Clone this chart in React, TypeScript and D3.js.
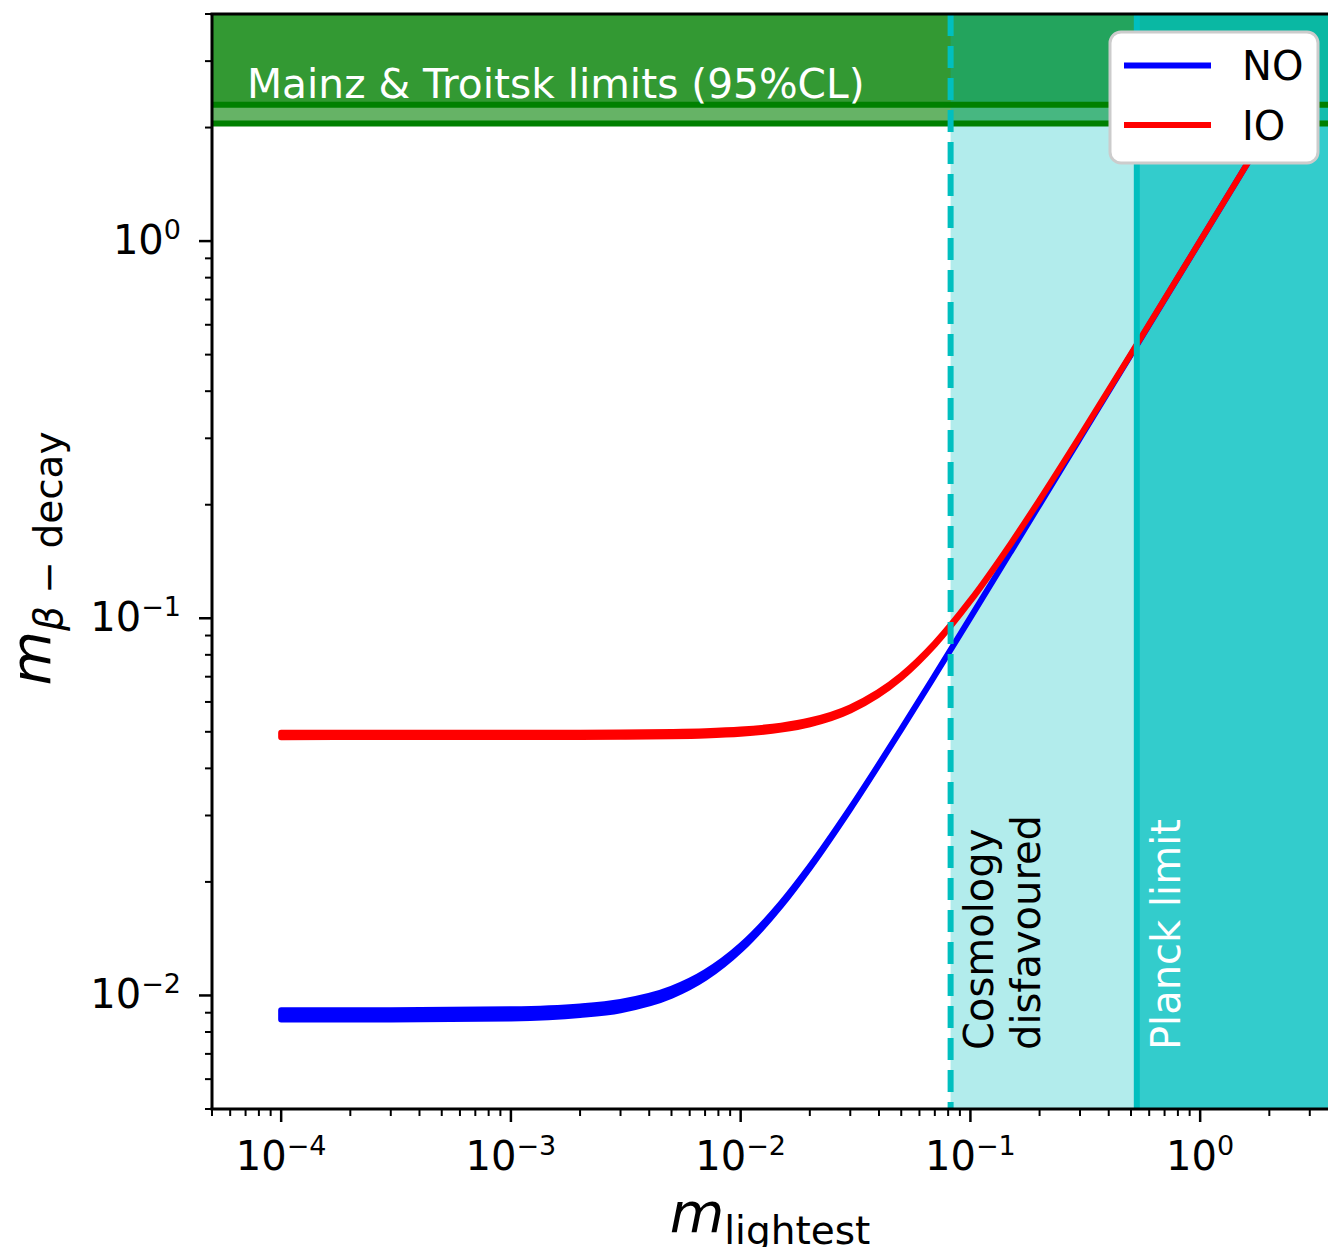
import React, { useRef, useEffect } from 'react';
import * as d3 from 'd3';

// lightest neutrino mass (eV) sampled along the curves
const mLightest = [1e-4, 3e-4, 1e-3, 2e-3, 3e-3, 5e-3, 7e-3, 1e-2, 1.5e-2, 2e-2, 3e-2, 5e-2, 7e-2, 0.1, 0.15, 0.2, 0.3, 0.5, 1, 2];

// normal ordering band (lower / upper edge)
const noLow = [0.00864, 0.00864, 0.00869, 0.00887, 0.00914, 0.00998, 0.01112, 0.01321, 0.01731, 0.02179, 0.03122, 0.05074, 0.07053, 0.10037, 0.15025, 0.20019, 0.30012, 0.50007, 1.0, 2.0];
const noHigh = [0.00913, 0.00914, 0.00919, 0.00935, 0.00961, 0.01041, 0.01151, 0.01354, 0.01756, 0.02199, 0.03136, 0.05083, 0.07059, 0.10042, 0.15028, 0.20021, 0.30014, 0.50008, 1.0, 2.0];

// inverted ordering band
const ioLow = [0.0484, 0.04841, 0.04841, 0.04845, 0.0485, 0.04866, 0.04891, 0.04943, 0.05068, 0.05237, 0.05695, 0.06959, 0.08511, 0.1111, 0.15762, 0.20577, 0.30388, 0.50234, 1.00117, 2.00059];
const ioHigh = [0.0497, 0.04971, 0.04971, 0.04975, 0.04979, 0.04995, 0.05019, 0.0507, 0.05191, 0.05357, 0.05805, 0.0705, 0.08585, 0.11167, 0.15802, 0.20608, 0.30409, 0.50247, 1.00123, 2.00062];

// limits
const mainzLimit = 2.3;
const troitskLimit = 2.05;
const cosmoLimit = 0.082;
const planckLimit = 0.53;

const xTickExps = [-4, -3, -2, -1, 0];
const yTickExps = [-2, -1, 0];

const FONT = '"DejaVu Sans", sans-serif';

export default function App() {
  const svgRef = useRef<SVGSVGElement>(null);

  useEffect(() => {
    const svg = d3.select(svgRef.current);
    svg.selectAll('*').remove();

    const left = 212, top = 14, bottom = 1109;
    const xDomain: [number, number] = [5e-5, 5];
    const yDomain: [number, number] = [5e-3, 4];
    const right = left + 229.75 * Math.log10(xDomain[1] / xDomain[0]);

    const x = d3.scaleLog().domain(xDomain).range([left, right]);
    const y = d3.scaleLog().domain(yDomain).range([bottom, top]);

    svg.append('defs').append('clipPath').attr('id', 'plotclip')
      .append('rect').attr('x', left).attr('y', top).attr('width', right - left).attr('height', bottom - top);

    const plot = svg.append('g').attr('clip-path', 'url(#plotclip)');

    // experimental limits (green)
    plot.append('rect')
      .attr('x', left).attr('y', top).attr('width', right - left)
      .attr('height', y(troitskLimit) - top)
      .attr('fill', 'green').attr('fill-opacity', 0.6);
    plot.append('rect')
      .attr('x', left).attr('y', top).attr('width', right - left)
      .attr('height', y(mainzLimit) - top)
      .attr('fill', 'green').attr('fill-opacity', 0.5);

    // cosmology regions
    plot.append('rect')
      .attr('x', x(cosmoLimit)).attr('y', top)
      .attr('width', x(planckLimit) - x(cosmoLimit)).attr('height', bottom - top)
      .attr('fill', 'rgb(0,191,191)').attr('fill-opacity', 0.3);
    plot.append('rect')
      .attr('x', x(planckLimit)).attr('y', top)
      .attr('width', right - x(planckLimit)).attr('height', bottom - top)
      .attr('fill', 'rgb(0,191,191)').attr('fill-opacity', 0.8);

    [mainzLimit, troitskLimit].forEach(v => {
      plot.append('line')
        .attr('x1', left).attr('x2', right).attr('y1', y(v)).attr('y2', y(v))
        .attr('stroke', 'green').attr('stroke-width', 6);
    });

    // bands
    const bands = [
      { low: noLow, high: noHigh, color: 'blue' },
      { low: ioLow, high: ioHigh, color: 'red' },
    ];
    bands.forEach(b => {
      const area = d3.area<number>()
        .x(d => x(d))
        .y0((d, i) => y(b.low[i]))
        .y1((d, i) => y(b.high[i]))
        .curve(d3.curveMonotoneX);
      plot.append('path')
        .attr('d', area(mLightest))
        .attr('fill', b.color)
        .attr('stroke', b.color)
        .attr('stroke-width', 6)
        .attr('stroke-linejoin', 'round');
    });

    // vertical limit lines
    plot.append('line')
      .attr('x1', x(cosmoLimit)).attr('x2', x(cosmoLimit)).attr('y1', top).attr('y2', bottom)
      .attr('stroke', 'rgb(0,191,191)').attr('stroke-width', 6).attr('stroke-dasharray', '22,10');
    plot.append('line')
      .attr('x1', x(planckLimit)).attr('x2', x(planckLimit)).attr('y1', top).attr('y2', bottom)
      .attr('stroke', 'rgb(0,191,191)').attr('stroke-width', 6);

    // annotations
    svg.append('text')
      .attr('x', 247).attr('y', 98)
      .attr('font-family', FONT).attr('font-size', 40.7).attr('fill', 'white')
      .text('Mainz & Troitsk limits (95%CL)');

    const vText = (tx: number, txt: string, color: string) => {
      svg.append('text')
        .attr('transform', `translate(${tx},1050) rotate(-90)`)
        .attr('font-family', FONT).attr('font-size', 40).attr('fill', color)
        .text(txt);
    };
    vText(993, 'Cosmology', 'black');
    vText(1040, 'disfavoured', 'black');
    vText(1180, 'Planck limit', 'white');

    // spines
    const axes = svg.append('g');
    axes.append('line').attr('x1', left).attr('x2', left).attr('y1', top).attr('y2', bottom)
      .attr('stroke', 'black').attr('stroke-width', 3);
    axes.append('line').attr('x1', left - 1.5).attr('x2', right).attr('y1', bottom).attr('y2', bottom)
      .attr('stroke', 'black').attr('stroke-width', 3);
    axes.append('line').attr('x1', left - 1.5).attr('x2', right).attr('y1', top).attr('y2', top)
      .attr('stroke', 'black').attr('stroke-width', 3);

    // ticks
    const minorVals = (lo: number, hi: number) => {
      const out: number[] = [];
      for (let e = Math.floor(Math.log10(lo)); e <= Math.ceil(Math.log10(hi)); e++) {
        for (let k = 1; k <= 9; k++) {
          const v = k * Math.pow(10, e);
          if (v >= lo * 0.999 && v <= hi * 1.001) out.push(v);
        }
      }
      return out;
    };

    minorVals(xDomain[0], xDomain[1]).forEach(v => {
      const major = Math.abs(Math.log10(v) - Math.round(Math.log10(v))) < 1e-6;
      axes.append('line')
        .attr('x1', x(v)).attr('x2', x(v))
        .attr('y1', bottom).attr('y2', bottom + (major ? 13 : 7))
        .attr('stroke', 'black').attr('stroke-width', major ? 2.5 : 2);
    });
    minorVals(yDomain[0], yDomain[1]).forEach(v => {
      const major = Math.abs(Math.log10(v) - Math.round(Math.log10(v))) < 1e-6;
      axes.append('line')
        .attr('x1', left - (major ? 13 : 7)).attr('x2', left)
        .attr('y1', y(v)).attr('y2', y(v))
        .attr('stroke', 'black').attr('stroke-width', major ? 2.5 : 2);
    });

    const expLabel = (e: number) => (e < 0 ? `\u2212${-e}` : `${e}`);

    xTickExps.forEach(e => {
      const t = axes.append('text')
        .attr('x', x(Math.pow(10, e))).attr('y', 1170)
        .attr('text-anchor', 'middle')
        .attr('font-family', FONT).attr('font-size', 40);
      t.append('tspan').text('10');
      t.append('tspan').attr('font-size', 27).attr('dy', -15).text(expLabel(e));
    });

    yTickExps.forEach(e => {
      const t = axes.append('text')
        .attr('x', 181).attr('y', y(Math.pow(10, e)) + 13)
        .attr('text-anchor', 'end')
        .attr('font-family', FONT).attr('font-size', 40);
      t.append('tspan').text('10');
      t.append('tspan').attr('font-size', 27).attr('dy', -15).text(expLabel(e));
    });

    // axis labels
    const xl = svg.append('text')
      .attr('x', (left + 1328) / 2).attr('y', 1232)
      .attr('text-anchor', 'middle')
      .attr('font-family', FONT).attr('font-size', 56);
    xl.append('tspan').attr('font-style', 'oblique').text('m');
    xl.append('tspan').attr('font-size', 39).attr('dy', 12).text('lightest');

    const yl = svg.append('text')
      .attr('transform', `translate(50,${(top + bottom) / 2 - 3}) rotate(-90)`)
      .attr('text-anchor', 'middle')
      .attr('font-family', FONT).attr('font-size', 56);
    yl.append('tspan').attr('font-style', 'oblique').text('m');
    yl.append('tspan').attr('font-size', 39).attr('dy', 12).attr('font-style', 'oblique').text('\u03b2');
    yl.append('tspan').attr('font-size', 39).text(' \u2212 decay');

    // legend
    const lg = svg.append('g');
    lg.append('rect')
      .attr('x', 1110).attr('y', 32).attr('width', 208).attr('height', 131).attr('rx', 11)
      .attr('fill', 'white')
      .attr('stroke', '#cccccc').attr('stroke-width', 3);
    [{ label: 'NO', color: 'blue', ly: 65.5 }, { label: 'IO', color: 'red', ly: 125 }].forEach(d => {
      lg.append('line')
        .attr('x1', 1124).attr('x2', 1211).attr('y1', d.ly).attr('y2', d.ly)
        .attr('stroke', d.color).attr('stroke-width', 6);
      lg.append('text')
        .attr('x', 1242).attr('y', d.ly + 14.5)
        .attr('font-family', FONT).attr('font-size', 40).attr('fill', 'black')
        .text(d.label);
    });
  }, []);

  return (
    <svg
      ref={svgRef}
      width={1328}
      height={1247}
      style={{ position: 'absolute', left: 0, top: 0, background: 'white' }}
    />
  );
}
